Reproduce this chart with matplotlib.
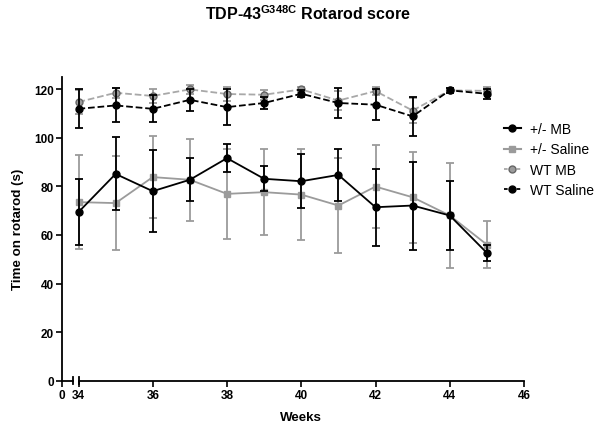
# TDP-43 G348C rotarod score - recreated chart
import matplotlib
matplotlib.use("Agg")
import matplotlib.pyplot as plt
from matplotlib.lines import Line2D

plt.rcParams["font.family"] = ["Liberation Sans", "DejaVu Sans"]
plt.rcParams["mathtext.fontset"] = "custom"
plt.rcParams["mathtext.rm"] = "Liberation Sans"
plt.rcParams["mathtext.bf"] = "Liberation Sans:bold"

# === data ===
weeks = [34, 35, 36, 37, 38, 39, 40, 41, 42, 43, 44, 45]

het_mb = [69.4, 85.1, 78.0, 82.7, 91.6, 83.1, 82.1, 84.7, 71.4, 72.1, 68.0, 52.6]
het_mb_err = [13.7, 15.0, 16.8, 8.8, 5.8, 5.1, 11.2, 10.7, 15.8, 18.1, 14.2, 3.4]

het_sal = [73.5, 73.1, 83.8, 82.7, 76.9, 77.6, 76.6, 72.1, 79.9, 75.5, 68.0, 56.0]
het_sal_err = [19.2, 19.3, 16.8, 16.8, 18.5, 17.6, 18.6, 19.5, 17.0, 18.8, 21.5, 9.6]

wt_mb = [114.7, 118.5, 117.2, 119.9, 118.0, 117.7, 119.9, 115.3, 119.2, 111.2, 119.5, 119.3]
wt_mb_err = [5.0, 2.0, 3.0, 2.0, 3.0, 2.0, 1.0, 4.0, 1.5, 5.0, 1.0, 1.5]

wt_sal = [111.9, 113.3, 111.9, 115.6, 112.6, 114.3, 118.1, 114.3, 113.6, 108.8, 119.5, 118.1]
wt_sal_err = [8.0, 7.0, 5.5, 4.4, 7.3, 2.3, 1.5, 6.0, 6.5, 8.0, 1.0, 2.0]

yticks = [0, 20, 40, 60, 80, 100, 120]
xticks = [34, 36, 38, 40, 42, 44, 46]

gray = "#9b9b9b"
light = "#a8a8a8"

fig = plt.figure(figsize=(6, 4.27), dpi=100)
ax0 = fig.add_axes([62 / 600, 45.3 / 427, 11.3 / 600, 303.7 / 427])
ax1 = fig.add_axes([78.5 / 600, 45.3 / 427, 445.5 / 600, 303.7 / 427], sharey=ax0)

# === left stub of the broken x axis ===
ax0.set_xlim(0, 0.3)
ax0.set_ylim(0, 125)
ax0.set_xticks([0])
ax0.set_xticklabels(["0"])
ax0.set_yticks(yticks)
for s in ["top", "right"]:
    ax0.spines[s].set_visible(False)
ax0.set_ylabel("Time on rotarod (s)", fontsize=9.6, fontweight="bold", labelpad=7)
ax0.plot([1, 1], [-0.012, 0.012], transform=ax0.transAxes, color="black",
         lw=1.3, clip_on=False)

# === main axis ===
ax1.set_xlim(34, 46)
ax1.set_xticks(xticks)
for s in ["top", "right", "left"]:
    ax1.spines[s].set_visible(False)
ax1.tick_params(axis="y", left=False, labelleft=False)
ax1.plot([0, 0], [-0.012, 0.012], transform=ax1.transAxes, color="black",
         lw=1.3, clip_on=False)
ax1.set_xlabel("Weeks", fontsize=9.6, fontweight="bold", labelpad=7)

for ax in (ax0, ax1):
    ax.spines["bottom"].set_linewidth(1.3)
    ax.spines["left"].set_linewidth(1.3)
    ax.tick_params(direction="out", length=4, width=1.2, labelsize=8.5, pad=2)
    for lab in ax.get_xticklabels() + ax.get_yticklabels():
        lab.set_fontweight("bold")

# === series ===
common = dict(capsize=2.6, elinewidth=1.3, capthick=1.3, lw=1.3,
              markersize=5, clip_on=False)

ax1.errorbar(weeks, het_sal, yerr=het_sal_err, color=gray, ecolor=gray,
             marker="s", mfc=gray, mec=gray, ls="-", zorder=2, **common)
ax1.errorbar(weeks, het_mb, yerr=het_mb_err, color="black", ecolor="black",
             marker="o", mfc="black", mec="black", ls="-", zorder=3, **common)
ax1.errorbar(weeks, wt_mb, yerr=wt_mb_err, color=light, ecolor=gray,
             marker="o", mfc=gray, mec="#666666", ls="--", zorder=2, **common)
ax1.errorbar(weeks, wt_sal, yerr=wt_sal_err, color="black", ecolor="black",
             marker="o", mfc="black", mec="black", ls="--", zorder=3, **common)

handles = [
    Line2D([], [], color="black", ls="-", lw=1.5, marker="o", ms=5, mfc="black", mec="black"),
    Line2D([], [], color=gray, ls="-", lw=1.5, marker="s", ms=5, mfc=gray, mec=gray),
    Line2D([], [], color=light, ls=(0, (2, 1.5)), lw=1.3, marker="o", ms=5, mfc=gray, mec="#666666"),
    Line2D([], [], color="black", ls=(0, (2, 1.5)), lw=1.3, marker="o", ms=5, mfc="black", mec="black"),
]
labels = ["+/- MB", "+/- Saline", "WT MB", "WT Saline"]
fig.legend(handles, labels, loc="upper left",
           bbox_to_anchor=(504 / 600, 1 - 123 / 427),
           frameon=False, fontsize=10, handlelength=1.2, handletextpad=0.7,
           labelspacing=0.46, borderpad=0, borderaxespad=0)

fig.text(308 / 600, 1 - 14 / 427, r"TDP-43$^{\mathbf{G348C}}$ Rotarod score",
         ha="center", va="center", fontsize=11.5, fontweight="bold")

fig.savefig("out.png", dpi=100)
